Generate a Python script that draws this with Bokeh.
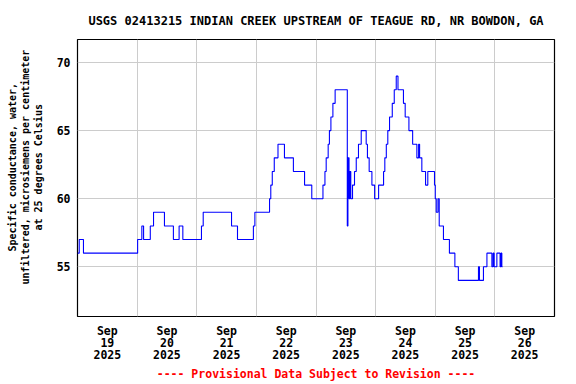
from bokeh.plotting import figure
from bokeh.models import FixedTicker, Range1d, Title, LinearAxis
from bokeh.embed import file_html
from bokeh.resources import INLINE

# ---- texts ----
title_text = "USGS 02413215 INDIAN CREEK UPSTREAM OF TEAGUE RD, NR BOWDON, GA"
ylabel_lines = ["Specific conductance, water,",
                "unfiltered, microsiemens per centimeter",
                "at 25 degrees Celsius"]
footer_text = "---- Provisional Data Subject to Revision ----"
tick_month = "Sep"
tick_year = "2025"
tick_days = ["19", "20", "21", "22", "23", "24", "25", "26"]
y_ticks = [55, 60, 65, 70]

# ---- data: hours since 2025-09-19 00:00 where the value changes (step series) ----
hours = [0, 0.7, 2.4, 24.2, 25.9, 26.6, 29.3, 30.6, 35.0, 38.6, 40.9, 42.4,
         49.9, 50.6, 62.0, 64.4, 70.8, 71.4,
         77.3, 77.8, 78.4, 79.2, 80.7, 83.3, 86.9, 91.4, 94.3,
         98.8, 99.6, 100.1, 100.9, 101.4, 102.0, 102.8, 103.7,
         108.6, 108.85, 109.3, 109.6, 110.0, 110.7, 111.5, 112.2, 113.1, 114.2,
         116.2, 116.7, 117.4, 118.5, 119.6, 121.2,
         123.2, 123.7, 124.3, 124.9, 125.6, 126.7, 127.5, 128.3, 129.0,
         131.2, 131.9, 133.4, 134.9, 136.6, 137.3, 137.7, 138.6, 140.1, 141.0,
         143.7, 144.0, 144.4, 145.1, 145.6, 147.3, 149.7, 151.9, 153.3,
         161.4, 161.8, 163.4, 164.8, 166.8, 167.3, 167.7, 168.8, 170.1, 170.5, 170.8, 171.1]
values = [56, 57, 56, 57, 58, 57, 58, 59, 58, 57, 58, 57,
          58, 59, 58, 57, 58, 59,
          60, 61, 62, 63, 64, 63, 62, 61, 60,
          61, 62, 63, 64, 65, 66, 67, 68,
          58, 63, 60, 62, 60, 61, 62, 63, 64, 65,
          64, 63, 62, 61, 60, 61,
          62, 63, 64, 65, 66, 67, 68, 69, 68,
          67, 66, 65, 64, 63, 64, 63, 62, 61, 62,
          61, 60, 59, 60, 58, 57, 56, 55, 54,
          55, 54, 55, 56, 55, 56, 55, 56, 55, 56, 55, 55]

days = [h / 24.0 for h in hours]

X0, X1 = 0.0, 8.0
Y0, Y1 = 51.35, 71.69

FONT = "DejaVu Sans Mono"

p = figure(width=576, height=384, x_range=Range1d(X0, X1), y_range=Range1d(Y0, Y1),
           output_backend="svg", toolbar_location=None,
           min_border_left=77, min_border_right=22, min_border_top=39, min_border_bottom=68)
p.background_fill_color = "white"
p.border_fill_color = "white"
p.outline_line_color = "black"
p.outline_line_width = 1.2

p.step(days, values, mode="after", line_color="#0000ff", line_width=1.1)

# title
p.title.text = title_text
p.title.align = "center"
p.title.text_font = FONT
p.title.text_font_style = "bold"
p.title.text_font_size = "12px"
p.title.text_color = "black"
p.title.standoff = 23

# x axis: labels at noon, grid at midnight; footer as axis label
p.xaxis.ticker = FixedTicker(ticks=[i + 0.5 for i in range(len(tick_days))])
p.xaxis.major_label_overrides = {i + 0.5: f"{tick_month}\n{d}\n{tick_year}" for i, d in enumerate(tick_days)}
p.xgrid.ticker = FixedTicker(ticks=list(range(1, len(tick_days))))
p.yaxis.ticker = FixedTicker(ticks=y_ticks)

for ax in (p.xaxis, p.yaxis):
    ax.axis_line_color = None
    ax.major_tick_line_color = None
    ax.minor_tick_line_color = None
    ax.major_tick_out = 0
    ax.major_tick_in = 0
    ax.minor_tick_out = 0
    ax.minor_tick_in = 0
    ax.major_label_text_font = FONT
    ax.major_label_text_font_style = "bold"
    ax.major_label_text_font_size = "11.5px"
    ax.major_label_text_color = "black"
p.xaxis.major_label_standoff = 7
p.xaxis.major_label_text_line_height = 0.88
p.yaxis.major_label_standoff = 7

p.xaxis.axis_label = footer_text
p.xaxis.axis_label_text_font = FONT
p.xaxis.axis_label_text_font_style = "bold"
p.xaxis.axis_label_text_font_size = "11.5px"
p.xaxis.axis_label_text_color = "red"
p.xaxis.axis_label_standoff = 2

# invisible spacer between y tick labels and the y label lines
spacer = LinearAxis(ticker=FixedTicker(ticks=[60]), axis_line_color=None,
                    major_tick_line_color=None, minor_tick_line_color=None,
                    major_tick_out=10, major_tick_in=0, minor_tick_out=0, minor_tick_in=0,
                    major_label_standoff=0, major_label_overrides={60: ""})
p.add_layout(spacer, "left")

# y label: three lines, innermost first, centred around page y ~165
YC_FROM_BOTTOM = 149
for line in reversed(ylabel_lines):
    L = len(line) * 0.602 * 10
    p.add_layout(Title(text=line, align="left", offset=int(round(YC_FROM_BOTTOM - L / 2)),
                       text_font=FONT, text_font_style="bold", text_font_size="10px",
                       text_color="black", standoff=0), "left")

for g in (p.xgrid, p.ygrid):
    g.grid_line_color = "#cccccc"
    g.grid_line_width = 1

open("out.html", "w").write(file_html(p, INLINE))
